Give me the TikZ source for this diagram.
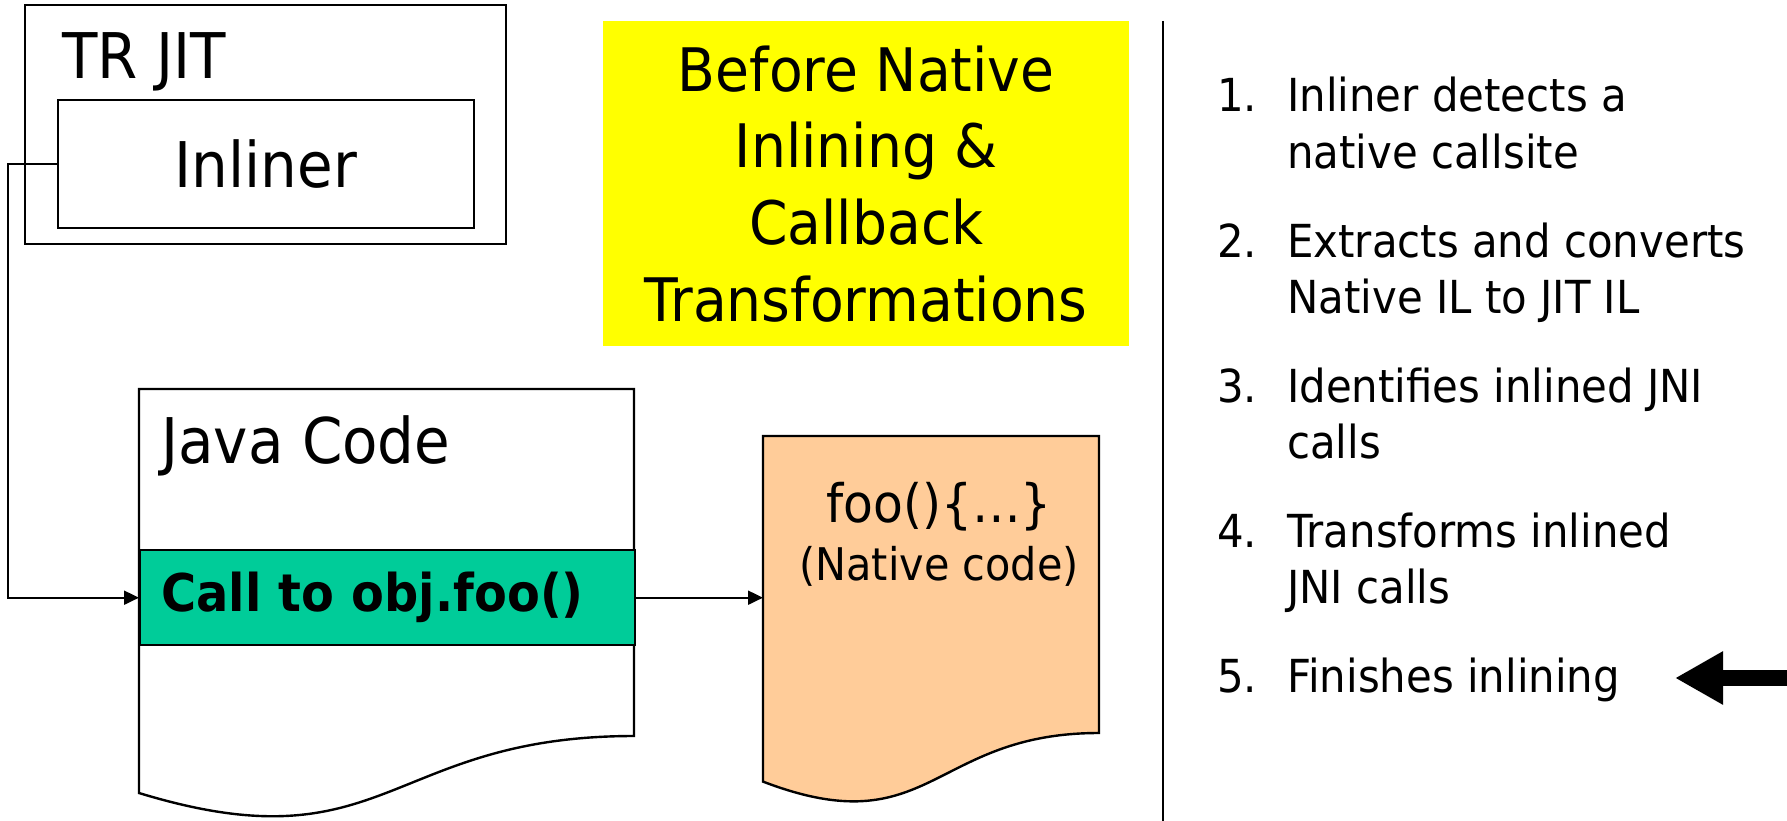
\documentclass[tikz,border=0pt]{standalone}
\usepackage{fontspec}
\setmainfont{DejaVu Sans}[FakeStretch=0.92]
\usetikzlibrary{arrows.meta, positioning}
\definecolor{callgreen}{HTML}{00CC99}
\definecolor{nativepeach}{HTML}{FFCC99}
\definecolor{noteyellow}{HTML}{FFFF00}
\tikzstyle{arrow} = [
    line width=2pt,
    -{Triangle[length=15pt,width=14pt]}
]

\begin{document}
\begin{tikzpicture}[
    x=1pt, y=-1pt,
    box/.style={
        rectangle,
        draw,
        line width=2.4pt,
        inner sep=0pt
    },
    bigtext/.style={font=\fontsize{63}{76}\selectfont, inner sep=0pt},
    listtext/.style={
        font=\fontsize{45.5}{56}\selectfont,
        align=left,
        anchor=base west,
        inner sep=0pt
    },
    doc/.style={line width=2.4pt, draw=black},
    pointer/.style={line width=16pt, -{Triangle[length=48pt,width=50pt]}}
]
\useasboundingbox (0,0) rectangle (1787,821);

% TR JIT with its inliner
\node[box, minimum width=481pt, minimum height=239pt] (jit) at (265.5,124.5) {};
\node[bigtext, anchor=base west] (jitlabel) at (62,79) {TR JIT};
\node[box, bigtext, minimum width=416pt, minimum height=128pt] (inliner) at (266,164) {Inliner};

% Java code document
\filldraw[doc, fill=white] (139,389) -- (634,389) -- (634,736)
    .. controls (386.5,736) and (386.5,868.5) .. (139,793) -- cycle;
\node[bigtext, anchor=base west] (javalabel) at (161,463) {Java Code};
\node[box, fill=callgreen, anchor=north west, minimum width=495pt, minimum height=95pt,
    text width=453pt, inner xsep=21pt, align=left,
    font=\fontsize{52}{60}\selectfont\bfseries] (call) at (139,549) {Call to obj.foo()};

% Native code document
\node[inner sep=0pt, anchor=north west, minimum width=336pt, minimum height=370pt] (natdoc) at (763,436) {};
\filldraw[doc, fill=nativepeach] (763,436) -- (1099,436) -- (1099,733)
    .. controls (931,733) and (931,845.8) .. (763,781.6) -- cycle;
\node[anchor=base, inner sep=0pt, font=\fontsize{53}{60}\selectfont] (foo) at (939,522) {foo()\{…\}};
\node[anchor=base, inner sep=0pt, font=\fontsize{45}{54}\selectfont] (natlabel) at (939,580) {(Native code)};

% Title
\node[fill=noteyellow, anchor=north west, minimum width=526pt, minimum height=325pt,
    align=center, inner sep=0pt, font=\fontsize{60}{76.7}\selectfont] (title) at (603,21)
    {Before Native\\Inlining \&\\Callback\\Transformations};

% Divider
\coordinate (divtop) at (1163,21);
\coordinate (divbot) at (1163,821);
\draw[line width=2pt] (divtop) -- (divbot);

% Steps (base = last line)
\node[listtext] (n1) at (1217,112) {1.};
\node[listtext] (s1) at (1287,168) {Inliner detects a\\native callsite};
\node[listtext] (n2) at (1217,257) {2.};
\node[listtext] (s2) at (1287,313) {Extracts and converts\\Native IL to JIT IL};
\node[listtext] (n3) at (1217,402) {3.};
\node[listtext] (s3) at (1287,458) {Identifies inlined JNI\\calls};
\node[listtext] (n4) at (1217,547) {4.};
\node[listtext] (s4) at (1287,603) {Transforms inlined\\JNI calls};
\node[listtext] (n5) at (1217,692) {5.};
\node[listtext] (s5) at (1287,692) {Finishes inlining};

% Arrows
\draw[arrow] (inliner.west) -- ++(-49,0) |- (call.west);
\draw[arrow] (call.east) -- (call.east -| natdoc.west);

\coordinate (ptrtail) at (1800,678);
\coordinate (ptrtip) at (1675,678);
\draw[pointer] (ptrtail) -- (ptrtip);

\end{tikzpicture}
\end{document}
